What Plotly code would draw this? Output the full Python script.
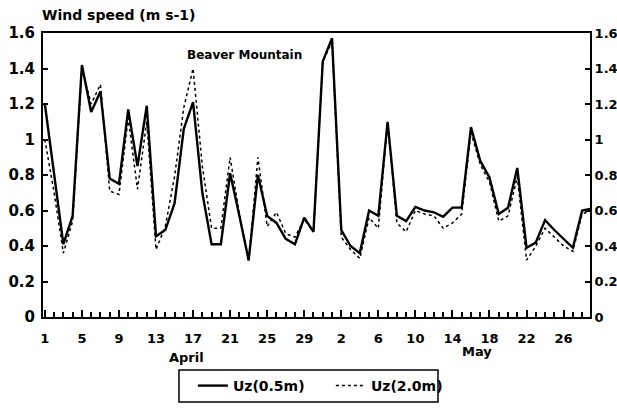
import plotly.graph_objects as go

# ---- data (day index from 1 April; daily means) ----
days = list(range(60))
uz05 = [1.20, 0.80, 0.41, 0.57, 1.42, 1.155, 1.27, 0.78, 0.75, 1.17,
        0.85, 1.19, 0.455, 0.49, 0.64, 1.06, 1.21, 0.70, 0.41, 0.41,
        0.81, 0.57, 0.32, 0.80, 0.57, 0.53, 0.44, 0.41, 0.56, 0.48,
        1.44, 1.57, 0.49, 0.40, 0.36, 0.60, 0.57, 1.10, 0.57, 0.54,
        0.62, 0.60, 0.59, 0.565, 0.616, 0.616, 1.07, 0.88, 0.786, 0.58,
        0.616, 0.84, 0.39, 0.42, 0.546, 0.49, 0.44, 0.39, 0.60, 0.61]
uz20 = [1.00, 0.70, 0.36, 0.54, 1.40, 1.20, 1.31, 0.71, 0.69, 1.12,
        0.72, 1.10, 0.38, 0.51, 0.79, 1.18, 1.40, 0.85, 0.50, 0.50,
        0.90, 0.58, 0.31, 0.90, 0.51, 0.59, 0.47, 0.45, 0.55, 0.48,
        1.44, 1.55, 0.45, 0.38, 0.33, 0.56, 0.50, 1.10, 0.53, 0.48,
        0.60, 0.58, 0.57, 0.50, 0.53, 0.58, 1.04, 0.86, 0.76, 0.54,
        0.57, 0.79, 0.32, 0.40, 0.50, 0.45, 0.40, 0.37, 0.58, 0.60]
tick_pos = [0, 4, 8, 12, 16, 20, 24, 28, 32, 36, 40, 44, 48, 52, 56]
tick_lab = ["1", "5", "9", "13", "17", "21", "25", "29",
            "2", "6", "10", "14", "18", "22", "26"]
y_ticks = [0, 0.2, 0.4, 0.6, 0.8, 1.0, 1.2, 1.4, 1.6]
y_labs = ["0", "0.2", "0.4", "0.6", "0.8", "1", "1.2", "1.4", "1.6"]

FONT = "DejaVu Sans"
fig = go.Figure()
fig.add_trace(go.Scatter(x=days, y=uz05, mode="lines", name="Uz(0.5m)",
                         line=dict(color="black", width=2.4)))
fig.add_trace(go.Scatter(x=days, y=uz20, mode="lines", name="Uz(2.0m)",
                         yaxis="y2",
                         line=dict(color="black", width=1.5, dash="dot")))

fig.update_layout(
    width=617, height=415,
    margin=dict(l=43, r=27, t=33, b=98, autoexpand=False),
    paper_bgcolor="white", plot_bgcolor="white",
    font=dict(family=FONT, color="black"),
    xaxis=dict(range=[-0.2, 58.85], tickmode="array", tickvals=tick_pos,
               ticktext=tick_lab, ticks="inside", ticklen=7, tickwidth=2,
               tickcolor="black", showline=True, linecolor="black",
               linewidth=2, mirror=True, showgrid=False, zeroline=False,
               automargin=False, ticklabelstandoff=8,
               tickfont=dict(family=FONT, size=13, color="black", weight="bold"),
               minor=dict(dtick=1, ticks="inside", ticklen=5, tickwidth=1.5,
                          tickcolor="black", showgrid=False)),
    yaxis=dict(range=[0, 1.6], tickmode="array", tickvals=y_ticks,
               ticktext=y_labs, ticks="inside", ticklen=5, tickwidth=2,
               tickcolor="black", showline=True, linecolor="black",
               linewidth=2, showgrid=False, zeroline=False,
               automargin=False, ticklabelstandoff=3,
               tickfont=dict(family=FONT, size=15, color="black", weight="bold")),
    yaxis2=dict(range=[0, 1.6], overlaying="y", side="right",
                tickmode="array", tickvals=y_ticks, ticktext=y_labs,
                ticks="inside", ticklen=5, tickwidth=2, tickcolor="black",
                showline=True, linecolor="black", linewidth=2,
                showgrid=False, zeroline=False, automargin=False,
                ticklabelstandoff=0,
                tickfont=dict(family=FONT, size=13, color="black", weight="bold")),
    showlegend=True,
    legend=dict(orientation="h", x=0.274, y=-0.1866, xanchor="left",
                yanchor="top", borderwidth=0, bgcolor="rgba(0,0,0,0)",
                entrywidth=93,
                font=dict(family=FONT, size=14, color="black", weight="bold")),
)

# legend frame
fig.add_shape(type="rect", xref="paper", yref="paper",
              x0=0.2486, x1=0.7221, y0=-0.2993, y1=-0.1866,
              line=dict(color="black", width=1.5), fillcolor="rgba(0,0,0,0)")

ann_font = dict(family=FONT, color="black", weight="bold")
fig.add_annotation(text="Wind speed (m s-1)", xref="paper", yref="paper",
                   x=-0.005, y=1.063, xanchor="left", yanchor="middle",
                   showarrow=False, font=dict(size=14, **ann_font))
fig.add_annotation(text="Beaver Mountain", xref="paper", yref="paper",
                   x=0.2596, y=0.9225, xanchor="left", yanchor="middle",
                   showarrow=False, font=dict(size=12, **ann_font))
fig.add_annotation(text="April", xref="paper", yref="paper",
                   x=0.263, y=-0.141, xanchor="center", yanchor="middle",
                   showarrow=False, font=dict(size=13, **ann_font))
fig.add_annotation(text="May", xref="paper", yref="paper",
                   x=0.793, y=-0.123, xanchor="center", yanchor="middle",
                   showarrow=False, font=dict(size=13, **ann_font))

fig.write_html("out.html", config={"displayModeBar": False},
               post_script="document.body.style.margin='0px';"
                           "document.body.style.overflow='hidden';")
